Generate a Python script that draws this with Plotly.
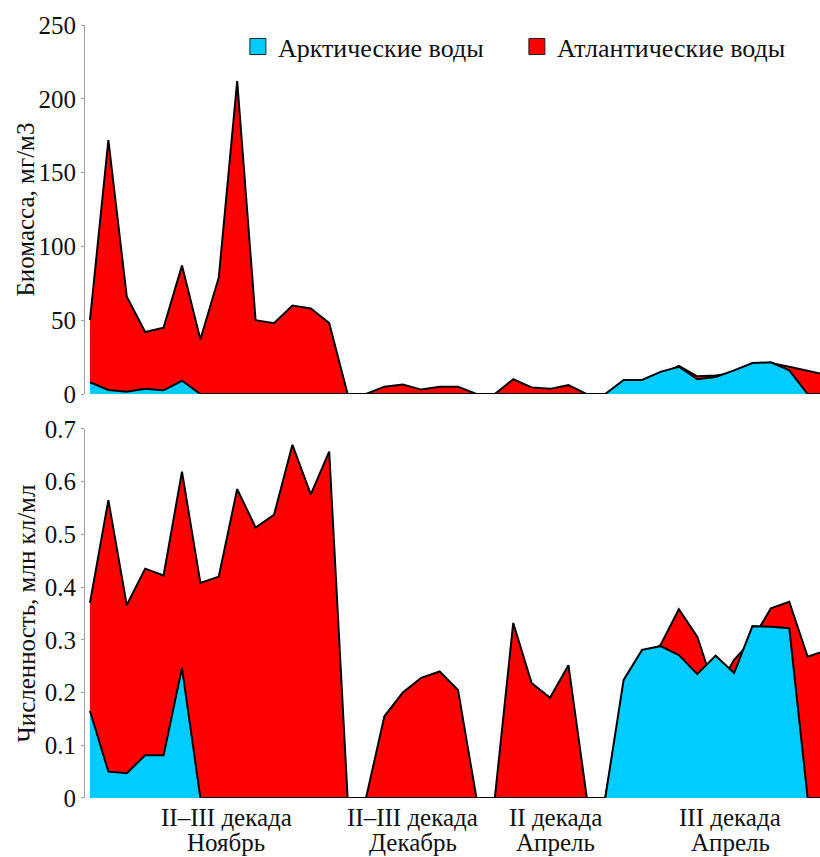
import plotly.graph_objects as go

# Station sequence along the survey transects
stations = [1, 2, 3, 4, 5, 6, 7, 8, 9, 10, 11, 12, 13, 14, 15, 16, 17, 18, 19, 20, 21,
            22, 23, 24, 25, 26, 27, 28, 29, 30, 31, 32, 33, 34, 35, 36, 37, 38, 39, 40, 41]

# Biomass, mg/m3
biomass_arctic = [8, 2.7, 1.5, 3.5, 2.5, 9, 0, 0, 0, 0, 0, 0, 0, 0, 0, 0, 0, 0, 0, 0, 0,
                  0, 0, 0, 0, 0, 0, 0, 0, 9.5, 9.5, 15, 18.5, 10, 11.5, 16, 21, 21.5, 16, 0, 0]
biomass_atlantic = [50, 172, 66, 42, 45, 87, 37, 79, 212, 50, 48, 60, 58, 48, 0, 0, 5, 6.5, 3, 5, 5,
                    0, 0, 10, 4.5, 3.5, 6, 0, 0, 6, 8, 13, 19, 12, 12.5, 14, 18, 21, 18.5, 15.5, 13]

# Abundance, mln cells/ml
abund_arctic = [0.165, 0.05, 0.047, 0.081, 0.081, 0.247, 0, 0, 0, 0, 0, 0, 0, 0, 0, 0, 0, 0, 0, 0, 0,
                0, 0, 0, 0, 0, 0, 0, 0, 0.224, 0.281, 0.288, 0.271, 0.235, 0.27, 0.237, 0.326, 0.325, 0.322, 0, 0]
abund_atlantic = [0.37, 0.565, 0.366, 0.435, 0.422, 0.619, 0.408, 0.42, 0.586, 0.513, 0.537, 0.67, 0.576, 0.657, 0, 0,
                  0.155, 0.2, 0.228, 0.24, 0.205, 0, 0, 0.332, 0.218, 0.19, 0.252, 0, 0,
                  0.2, 0.26, 0.29, 0.358, 0.306, 0.2, 0.262, 0.3, 0.36, 0.372, 0.268, 0.28]

# Period labels under the lower panel (two lines each) and their station positions
period_pos = [8.4, 18.55, 26.3, 35.8]
period_line1 = ["II–III декада", "II–III декада", "II декада", "III декада"]
period_line2 = ["Ноябрь", "Декабрь", "Апрель", "Апрель"]

series_names = ["Арктические воды", "Атлантические воды"]
axis_titles = ["Биомасса, мг/м3", "Численность, млн кл/мл"]
BLUE = "#00CCFF"
RED = "#FF0000"
FONT = "Liberation Serif"
TEXT = "#111111"

W, H = 820, 857
M_L, M_R, M_T, M_B = 85, 0, 25, 59
plot_h = H - M_T - M_B
plot_w = W - M_L - M_R

fig = go.Figure()


def add_area(x, y, color, xa, ya):
    fig.add_trace(go.Scatter(
        x=x, y=y, mode="lines", fill="tozeroy", fillcolor=color,
        line=dict(color="black", width=2), showlegend=False,
        xaxis=xa, yaxis=ya, hoverinfo="x+y"))


# Atlantic drawn first (behind), Arctic in front
add_area(stations, biomass_atlantic, RED, "x", "y")
add_area(stations, biomass_arctic, BLUE, "x", "y")
add_area(stations, abund_atlantic, RED, "x2", "y2")
add_area(stations, abund_arctic, BLUE, "x2", "y2")

# Legend entries with square swatches
for name, color in zip(series_names, [BLUE, RED]):
    fig.add_trace(go.Scatter(
        x=[None], y=[None], mode="markers", name=name,
        marker=dict(symbol="square", size=16, color=color, line=dict(color="#222", width=1)),
        xaxis="x", yaxis="y"))

xrange = [0.73, 40.67]
top_domain = [0.5226, 1]
bottom_domain = [0, 0.4774]
yaxis_common = dict(
    showline=True, linecolor="#a0a0a0", linewidth=1,
    ticks="outside", ticklen=3, tickcolor="#a0a0a0",
    showgrid=False, zeroline=False,
    tickfont=dict(family=FONT, size=25, color=TEXT),
)

fig.update_layout(
    width=W, height=H,
    margin=dict(l=M_L, r=M_R, t=M_T, b=M_B),
    paper_bgcolor="white", plot_bgcolor="white",
    font=dict(family=FONT, color=TEXT),
    xaxis=dict(domain=[0, 1], range=xrange, anchor="y", showticklabels=False,
               showline=False, showgrid=False, zeroline=False, ticks=""),
    xaxis2=dict(domain=[0, 1], range=xrange, anchor="y2", showticklabels=False,
                showline=False, showgrid=False, zeroline=False, ticks=""),
    yaxis=dict(domain=top_domain, range=[0, 250], tickvals=[0, 50, 100, 150, 200, 250],
               **yaxis_common),
    yaxis2=dict(domain=bottom_domain, range=[0, 0.7],
                tickvals=[0, 0.1, 0.2, 0.3, 0.4, 0.5, 0.6, 0.7],
                ticktext=["0", "0.1", "0.2", "0.3", "0.4", "0.5", "0.6", "0.7"],
                **yaxis_common),
    legend=dict(orientation="h", x=0.208, y=0.972, xanchor="left", yanchor="middle",
                font=dict(family=FONT, size=26, color=TEXT),
                bgcolor="rgba(255,255,255,0)", itemwidth=30,
                entrywidth=234, entrywidthmode="pixels"),
    showlegend=True,
)

# Rotated axis titles, centred on each panel
title_x = (26 - M_L) / plot_w
for txt, dom in zip(axis_titles, [top_domain, bottom_domain]):
    fig.add_annotation(x=title_x, y=(dom[0] + dom[1]) / 2, xref="paper", yref="paper",
                       text=txt, textangle=-90, showarrow=False,
                       font=dict(family=FONT, size=25, color=TEXT),
                       xanchor="center", yanchor="middle")

# Two label rows below the lower panel (paper units derived from pixel offsets)
row1 = -(818 - 798) / plot_h
row2 = -(843 - 798) / plot_h
for xp, l1, l2 in zip(period_pos, period_line1, period_line2):
    for txt, yy in ((l1, row1), (l2, row2)):
        fig.add_annotation(x=xp, y=yy, xref="x2", yref="paper", text=txt, showarrow=False,
                           font=dict(family=FONT, size=25, color=TEXT),
                           xanchor="center", yanchor="middle")

fig.write_html("out.html")
